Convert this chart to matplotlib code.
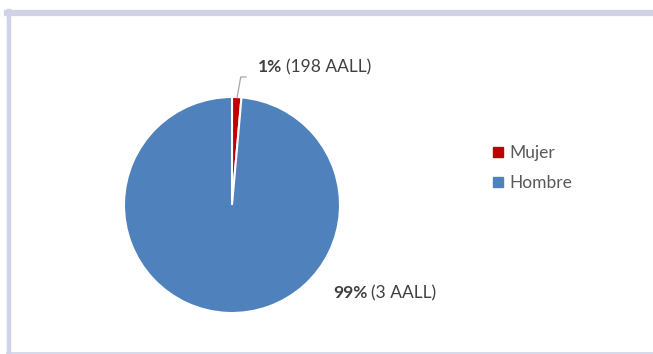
import numpy as np
import matplotlib
matplotlib.use("Agg")
import matplotlib.pyplot as plt
from matplotlib.lines import Line2D

# data
categories = ["Mujer", "Hombre"]
shares = [1.4, 98.6]          # percent
pct_labels = ["1%", "99%"]
count_labels = ["(198 AALL)", "(3 AALL)"]
colors = ["#C00000", "#4F81BD"]

plt.rcParams["font.family"] = ["Lato", "DejaVu Sans"]
TXT = "#404040"
FS = 12.5

fig = plt.figure(figsize=(6.53, 3.54), dpi=100)
W, H = 653, 354

# frame lines (lavender border)
border = "#D0D3E8"
fig.add_artist(plt.Line2D([7 / W, 1], [1 - 13 / H] * 2, color=border, lw=4.5,
                          transform=fig.transFigure))
fig.add_artist(plt.Line2D([9 / W] * 2, [1 - 11 / H, 1 - 353 / H], color=border, lw=3.2,
                          transform=fig.transFigure))
fig.add_artist(plt.Line2D([7 / W, 1], [1 - 352.5 / H] * 2, color=border, lw=1.2,
                          transform=fig.transFigure))

cx, cy, r = 232 / W, 1 - 205 / H, 108
ax = fig.add_axes([cx - r / W, cy - r / H, 2 * r / W, 2 * r / H])
wedges, _ = ax.pie(shares, colors=colors, startangle=90, counterclock=False,
                   radius=1, wedgeprops=dict(edgecolor="white", linewidth=1.5))
ax.set_xlim(-1, 1)
ax.set_ylim(-1, 1)
ax.set_aspect("equal")
ax.axis("off")

# label for Mujer with leader line
w = wedges[0]
ang = np.deg2rad((w.theta1 + w.theta2) / 2)
ax.annotate("", xy=(np.cos(ang) * 0.97, np.sin(ang) * 0.97),
            xytext=(249 / W, 1 - 77 / H), textcoords="figure fraction",
            arrowprops=dict(arrowstyle="-", color="#A6A6A6", lw=0.9,
                            connectionstyle="angle,angleA=0,angleB=80,rad=0"))

pos = [(258, 67), (333, 293)]
for (px, py), p, c in zip(pos, pct_labels, count_labels):
    t = fig.text(px / W, 1 - py / H, p, fontsize=FS, fontweight="bold",
                 color=TXT, va="center", ha="left")
    ax.annotate(c, xy=(1, 0.5), xycoords=t, xytext=(2.5, 0),
                textcoords="offset points", fontsize=FS, color=TXT,
                va="center", ha="left")

handles = [Line2D([], [], marker="s", ls="", markersize=6.5, color=col)
           for col in colors]
fig.legend(handles, categories, loc="center left",
           bbox_to_anchor=(476 / W, 1 - 168 / H), frameon=False,
           fontsize=FS, labelcolor="#595959", handlelength=0.7,
           handletextpad=0.35, labelspacing=0.8)

fig.savefig("out.png", dpi=100, facecolor="white")
